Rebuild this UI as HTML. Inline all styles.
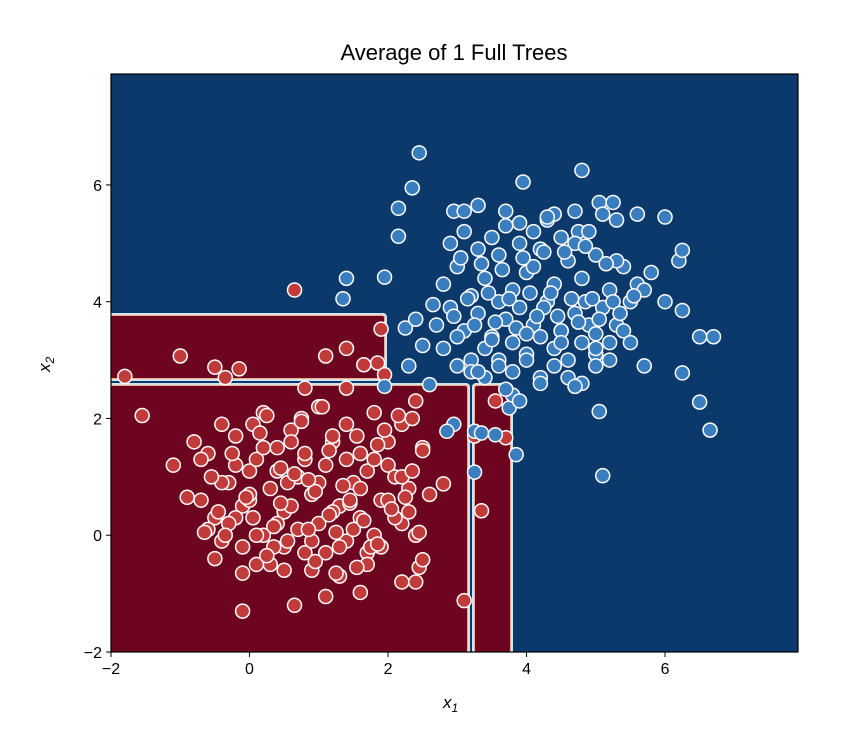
<!DOCTYPE html>
<html><head><meta charset="utf-8"><style>
body{margin:0;background:#fff;width:855px;height:734px;overflow:hidden;font-family:"Liberation Sans",sans-serif}
</style></head><body>
<svg id="chart" width="855" height="734" xmlns="http://www.w3.org/2000/svg">
<text x="454" y="60" font-size="22" text-anchor="middle">Average of 1 Full Trees</text>
<g id="plot"></g>
<g id="axes"></g>
</svg>
<script>
const xTicks=[-2,0,2,4,6];
const yTicks=[-2,0,2,4,6];
const redX=[0.65,-1.8,-1.55,-1.0,-0.5,-0.15,-0.35,1.1,1.4,1.9,1.85,1.65,1.95,0.8,1.4,3.55,3.25,3.7,2.8,3.35,3.1,-0.1,0.65,-0.1,1.1,1.6,2.2,2.4,2.45,2.5,
-0.8,-0.6,-0.4,-0.2,0.0,0.2,0.4,0.6,0.8,1.0,1.2,1.4,1.6,1.8,2.0,2.2,2.4,
-0.7,-0.5,-0.3,-0.1,0.1,0.3,0.5,0.7,0.9,1.1,1.3,1.5,1.7,1.9,2.1,2.3,2.5,
-0.6,-0.4,-0.2,0.0,0.2,0.4,0.6,0.8,1.0,1.2,1.4,1.6,1.8,2.0,2.2,2.4,
-0.5,-0.3,-0.1,0.1,0.3,0.5,0.7,0.9,1.1,1.3,1.5,1.7,1.9,2.1,2.3,
-0.4,-0.2,0.0,0.2,0.4,0.6,0.8,1.0,1.2,1.4,1.6,1.8,2.0,2.2,
0.1,0.5,0.9,1.3,1.7,-0.7,2.6,2.5,-1.1,-0.9,2.35,2.15,0.25,1.05,1.55,0.75,0.35,1.95,2.45,1.25,0.05,0.85,-0.45,1.75,0.55,
-0.55,-0.25,0.15,0.45,0.75,1.15,1.45,1.85,2.05,-0.65,-0.05,0.35,0.65,0.95,1.35,1.65,2.25,0.25,0.55,0.95,1.25,1.55,1.85,-0.35,0.05,0.45,0.85,1.15,1.45,2.35];
const redY=[4.2,2.72,2.05,3.07,2.88,2.85,2.7,3.07,3.2,3.53,2.95,2.92,2.75,2.52,2.52,2.3,1.7,1.67,0.88,0.42,-1.12,-1.3,-1.2,-0.65,-1.05,-0.98,-0.8,-0.8,-0.55,-0.42,
1.6,1.4,1.9,1.7,1.1,2.1,1.5,1.8,1.3,2.2,1.6,1.9,1.4,2.1,1.2,1.9,2.3,
0.6,0.3,0.9,0.5,1.3,0.8,0.4,1.0,0.7,1.2,0.5,0.9,1.1,0.6,1.0,0.8,1.5,
0.1,-0.1,0.3,0.6,0.0,0.2,0.5,-0.3,0.2,0.4,-0.1,0.3,0.0,0.6,0.2,0.0,
-0.4,0.2,-0.2,0.0,-0.5,-0.2,0.1,-0.6,-0.3,-0.2,0.1,-0.3,-0.2,0.3,0.4,
0.9,1.2,0.7,1.5,1.1,1.6,1.4,0.9,1.7,1.3,0.8,1.3,1.6,1.0,
-0.5,-0.6,-0.1,-0.7,-0.5,1.3,0.7,1.45,1.2,0.65,2.0,2.05,2.05,2.2,1.7,2.0,-0.2,1.8,0.05,-0.65,1.9,0.1,0.4,-0.2,0.9,
1.0,1.4,1.75,1.15,1.95,1.45,0.55,1.55,0.45,0.05,0.65,0.15,1.05,0.75,0.85,0.25,0.65,-0.35,-0.1,-0.45,0.05,-0.55,-0.15,0.0,0.3,0.55,0.95,0.35,0.6,1.1];
const blueX=[2.45,2.35,3.95,4.8,2.15,2.15,1.4,1.35,1.95,2.95,3.1,3.3,3.7,1.95,2.6,2.95,2.85,3.25,3.25,3.35,3.55,3.85,3.75,3.8,3.7,5.1,5.05,6.65,6.5,6.25,6.7,6.5,6.25,6.0,6.2,6.25,6.0,5.6,5.25,5.05,4.75,2.3,2.25,2.4,2.5,2.65,
2.8,3.0,3.2,3.4,3.6,3.8,4.0,4.2,4.4,4.6,4.8,5.0,5.2,5.4,5.6,5.8,
2.7,2.9,3.1,3.3,3.5,3.7,3.9,4.1,4.3,4.5,4.7,4.9,5.1,5.3,5.5,5.7,
2.8,3.0,3.2,3.4,3.6,3.8,4.0,4.2,4.4,4.6,4.8,5.0,5.2,5.4,
2.9,3.1,3.3,3.5,3.7,3.9,4.1,4.3,4.5,4.7,4.9,5.1,5.3,
3.0,3.2,3.4,3.6,3.8,4.0,4.2,4.4,4.6,4.8,5.0,5.2,5.5,5.7,
3.3,3.9,4.2,4.5,4.7,5.0,5.3,4.1,4.4,3.6,4.85,4.25,5.55,
3.15,3.45,3.75,4.05,4.35,4.65,4.95,5.25,2.95,3.25,3.55,3.85,4.15,4.45,4.75,5.05,5.35,3.05,3.35,3.65,3.95,4.25,4.55,4.85,5.15,3.5,4.0,4.5,5.0,4.3,4.7,3.9];
const blueY=[6.55,5.95,6.05,6.25,5.6,5.12,4.4,4.05,4.42,5.55,5.55,5.65,5.55,2.55,2.58,1.9,1.78,1.08,1.78,1.75,1.72,1.38,2.18,2.4,2.5,1.02,2.12,1.8,2.28,2.78,3.4,3.4,3.85,4.0,4.7,4.88,5.45,5.5,5.7,5.7,5.2,2.9,3.55,3.7,3.25,3.95,
4.3,4.6,4.1,4.4,4.8,4.2,4.5,4.9,4.3,4.7,4.4,4.8,4.2,4.6,4.3,4.5,
3.6,3.9,3.5,3.8,3.4,3.7,3.9,3.6,4.0,3.5,3.8,3.6,3.9,3.6,4.0,4.2,
3.2,3.4,3.0,3.2,3.0,3.3,3.1,3.4,3.2,3.0,3.3,3.1,3.3,3.5,
5.0,5.2,4.9,5.1,5.3,5.0,5.2,5.4,5.1,5.0,5.2,5.5,5.4,
2.9,2.8,2.7,2.9,2.8,3.0,2.7,2.9,2.7,2.6,2.9,3.0,3.3,2.9,
2.8,2.3,2.6,3.5,2.55,3.2,4.7,4.6,5.5,4.0,4.0,3.9,4.1,
4.05,4.15,4.05,4.15,4.15,4.05,4.05,4.0,3.75,3.6,3.65,3.55,3.75,3.75,3.65,3.7,3.8,4.75,4.65,4.55,4.75,4.85,4.85,4.95,4.65,3.35,3.45,3.3,3.45,5.45,5.55,5.35];
const X0=111,X1=798,Y0=74,Y1=652,xmin=-2,xmax=7.92,ymin=-2,ymax=7.9;
const sx=v=>X0+(v-xmin)/(xmax-xmin)*(X1-X0);
const sy=v=>Y1-(v-ymin)/(ymax-ymin)*(Y1-Y0);
const NS="http://www.w3.org/2000/svg";
const plot=document.getElementById('plot'),axes=document.getElementById('axes');
function mk(p,t,a){const e=document.createElementNS(NS,t);for(const k in a)e.setAttribute(k,a[k]);p.appendChild(e);return e;}
let bg=mk(plot,'rect',{x:X0,y:Y0,width:X1-X0,height:Y1-Y0,fill:'#0b396b'});


const regs=[[111,316,384,378],[111,386,467,652],[475,386,510,652]];
regs.forEach((r,i)=>{
 let e=mk(plot,'rect',{x:r[0]-2,y:r[1]-2,width:r[2]-r[0]+4,height:r[3]-r[1]+4,rx:3,fill:'#f4a582',stroke:'#d1e5f0','stroke-width':2});
 
 
 let f=mk(plot,'rect',{x:r[0],y:r[1],width:r[2]-r[0],height:r[3]-r[1],rx:2,fill:'#6d0520'});
 
 
});
mk(plot,'rect',{x:X0-3,y:Y0,width:3,height:Y1-Y0,fill:'#fff'});
mk(plot,'rect',{x:X0,y:Y1,width:X1-X0,height:3,fill:'#fff'});
function pts(xs,ys,col,name){for(let i=0;i<xs.length;i++){
 const c=mk(plot,'circle',{cx:sx(xs[i]),cy:sy(ys[i]),r:7,fill:col,stroke:'#fff','stroke-width':1.5});
 
 }}
pts(redX,redY,'#c23b3b','red-point');
pts(blueX,blueY,'#3a7ebf','blue-point');
let fr=mk(axes,'rect',{x:X0,y:Y0,width:X1-X0,height:Y1-Y0,fill:'none',stroke:'#000','stroke-width':1.2});


xTicks.forEach(t=>{const x=sx(t);mk(axes,'line',{x1:x,x2:x,y1:Y1,y2:Y1+5,stroke:'#000'});
 const tx=mk(axes,'text',{x:x,y:Y1+22,'font-size':16,'text-anchor':'middle'});tx.textContent=(t<0?'\u2212'+(-t):t);
 
 });
yTicks.forEach(t=>{const y=sy(t);mk(axes,'line',{x1:X0-5,x2:X0,y1:y,y2:y,stroke:'#000'});
 const tx=mk(axes,'text',{x:X0-9,y:y+6,'font-size':16,'text-anchor':'end'});tx.textContent=(t<0?'\u2212'+(-t):t);
 
 });
</script>
<svg style="position:absolute;left:0;top:0" width="855" height="734">
<text x="443" y="708" font-size="17" font-style="italic">x<tspan font-size="12" dy="4">1</tspan></text>
<text transform="translate(50,372) rotate(-90)" font-size="17" font-style="italic">x<tspan font-size="12" dy="4">2</tspan></text>
</svg>
</body></html>
